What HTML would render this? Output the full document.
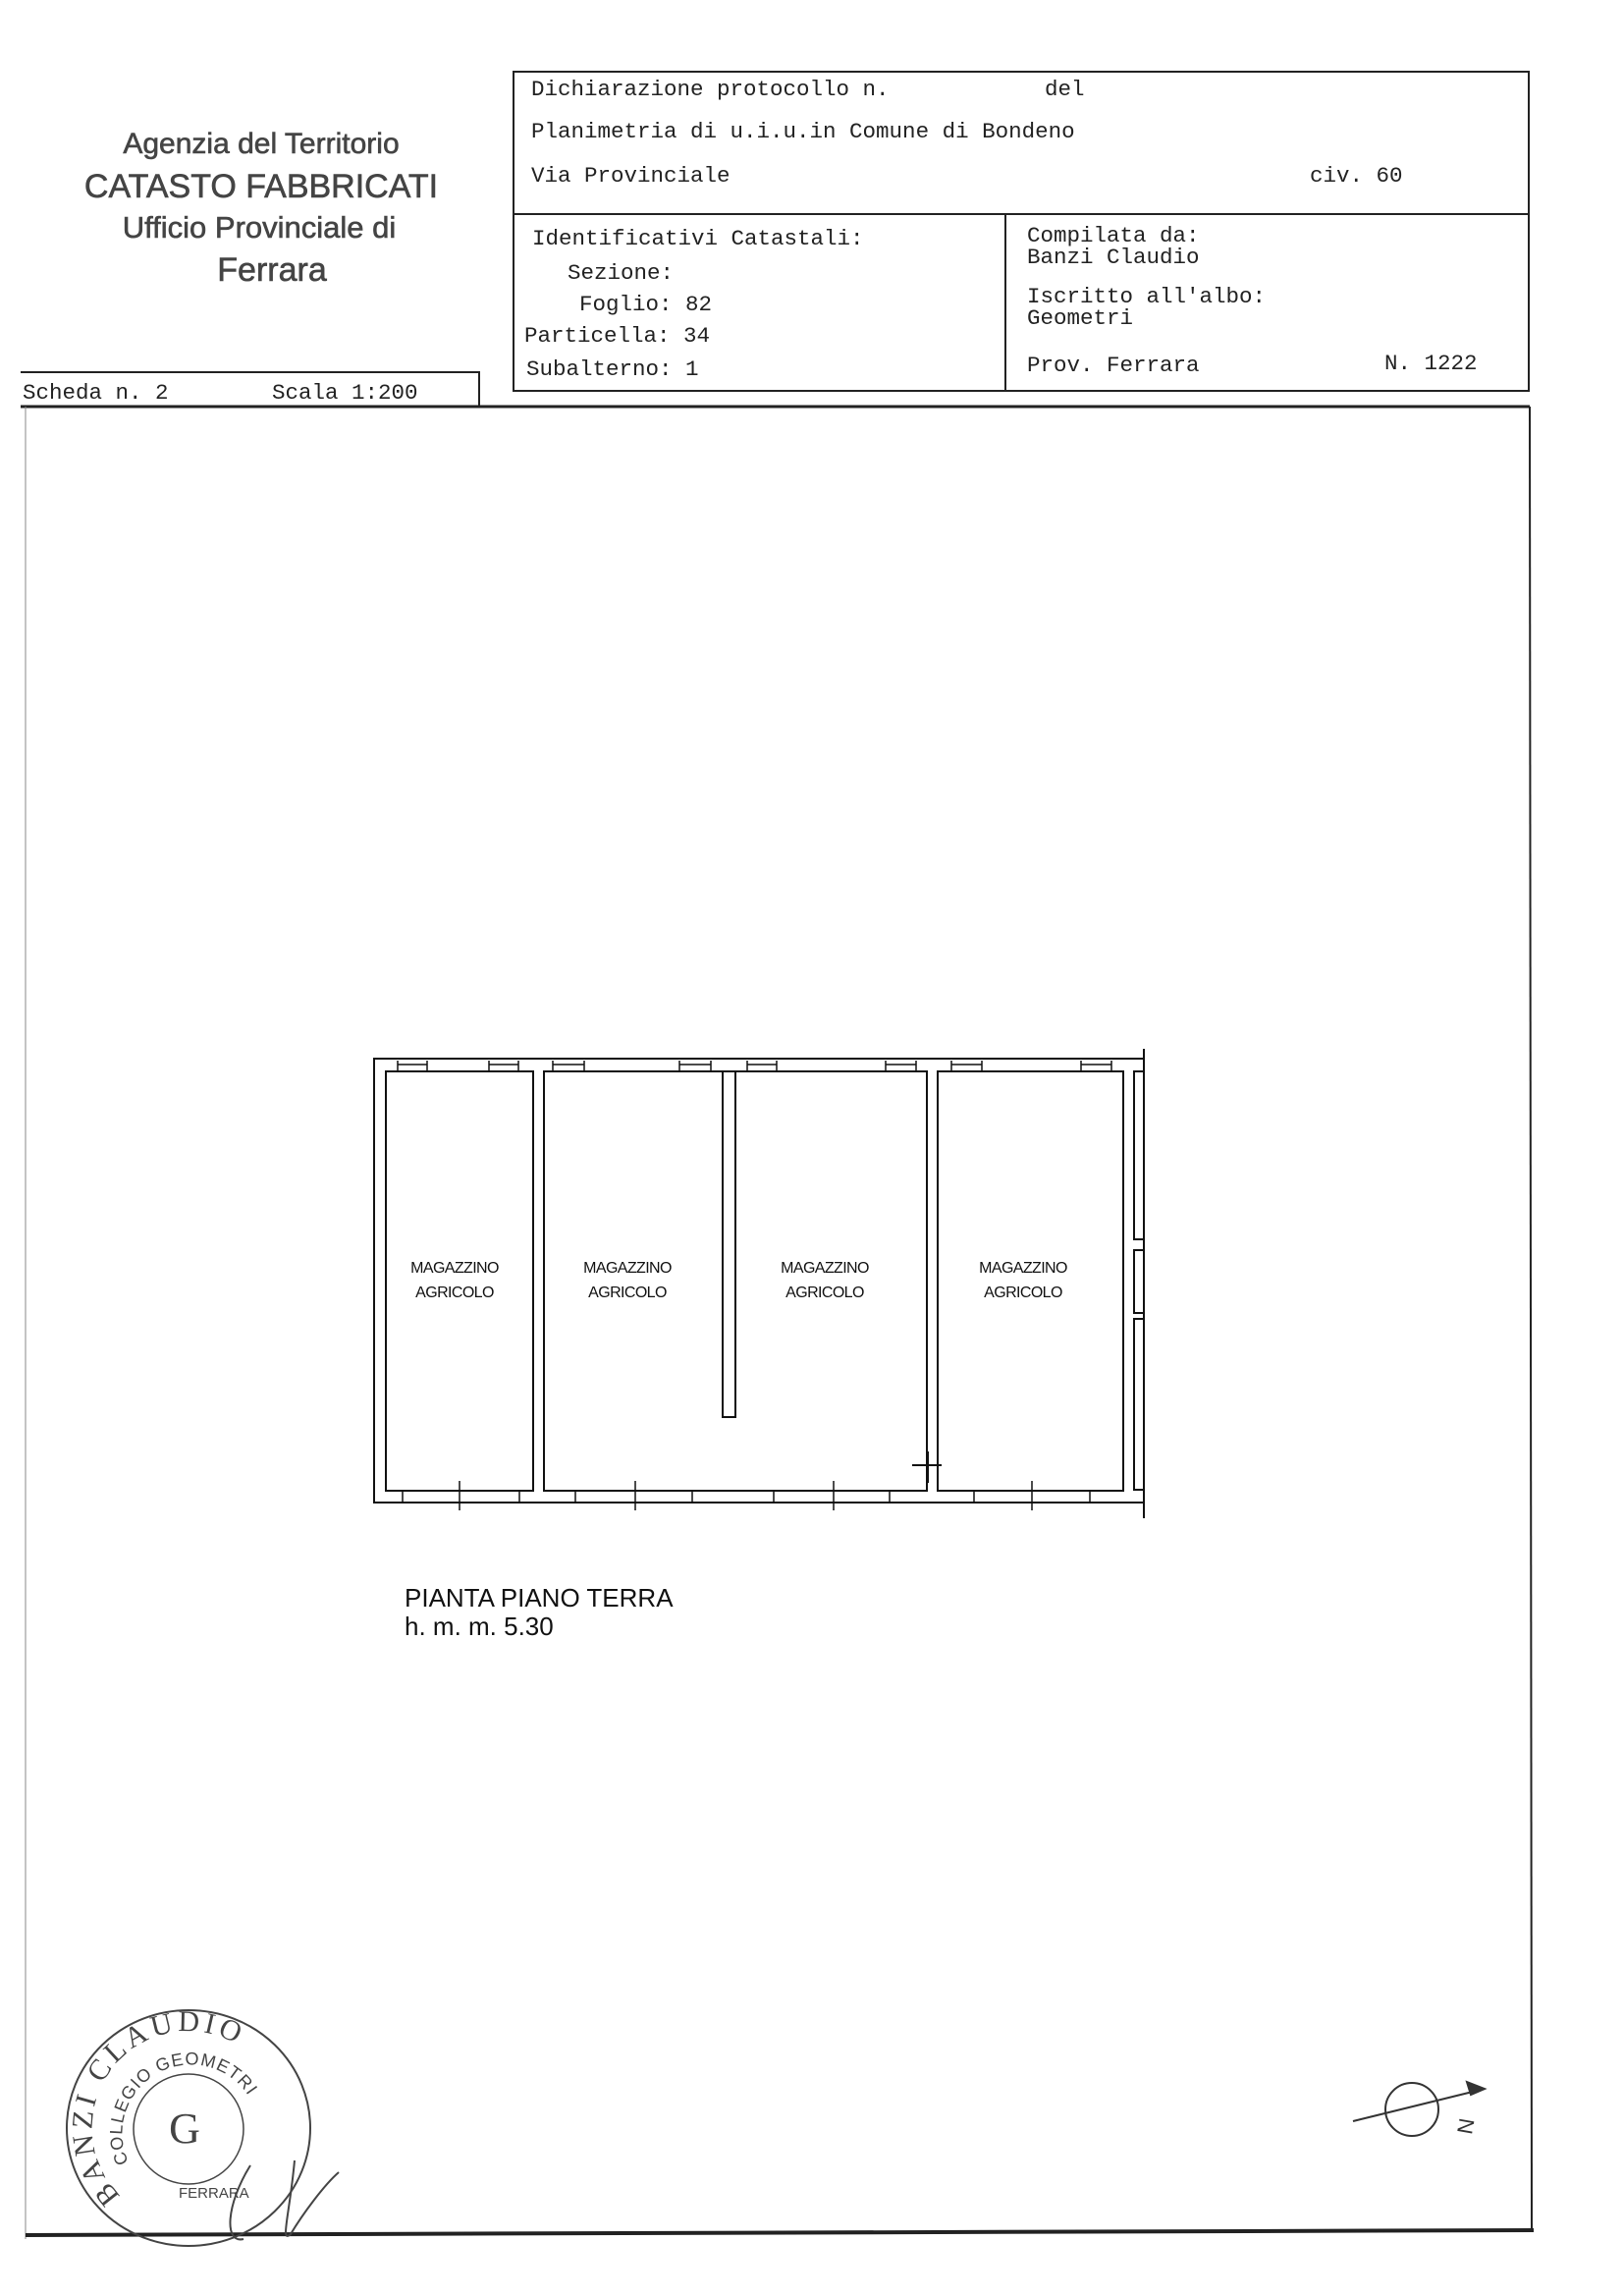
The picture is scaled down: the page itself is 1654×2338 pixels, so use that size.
<!DOCTYPE html>
<html><head><meta charset="utf-8"><style>
html,body{margin:0;padding:0;background:#fff}
svg{display:block}
.m{font-family:"Liberation Mono",monospace;font-size:22.5px;fill:#222}
.g{font-family:"Liberation Sans Narrow","Liberation Sans",sans-serif;fill:#444;stroke:#444;stroke-width:0.6;text-anchor:middle}
.p{font-family:"Liberation Sans",sans-serif;font-size:16px;fill:#111;text-anchor:middle;letter-spacing:-0.6px}
</style></head><body>
<svg width="1654" height="2338" viewBox="0 0 1654 2338" xmlns="http://www.w3.org/2000/svg">
<g fill="none" stroke="#222" stroke-width="2">
<rect x="523" y="73" width="1034" height="325"/>
<line x1="523" y1="218" x2="1557" y2="218"/>
<line x1="1024" y1="218" x2="1024" y2="398"/>
<polyline points="21,379 488,379 488,414"/>
<line x1="21" y1="414" x2="1558" y2="414" stroke-width="3"/>
<line x1="1558" y1="414" x2="1560" y2="2273"/>
<line x1="26" y1="414" x2="26" y2="2280" stroke="#888" stroke-width="1"/>
<line x1="26" y1="2276" x2="1562" y2="2271" stroke-width="4"/>
</g>
<text class="g" x="266" y="156" font-size="30">Agenzia del Territorio</text>
<text class="g" x="266" y="201" font-size="34" stroke-width="1.2">CATASTO FABBRICATI</text>
<text class="g" x="264" y="242" font-size="31">Ufficio Provinciale di</text>
<text class="g" x="277" y="286" font-size="34">Ferrara</text>
<text class="m" x="541" y="97">Dichiarazione protocollo n.</text>
<text class="m" x="1064" y="97">del</text>
<text class="m" x="541" y="140">Planimetria di u.i.u.in Comune di Bondeno</text>
<text class="m" x="541" y="185">Via Provinciale</text>
<text class="m" x="1334" y="185">civ. 60</text>
<text class="m" x="542" y="249">Identificativi Catastali:</text>
<text class="m" x="578" y="284">Sezione:</text>
<text class="m" x="590" y="316">Foglio: 82</text>
<text class="m" x="534" y="348">Particella: 34</text>
<text class="m" x="536" y="382">Subalterno: 1</text>
<text class="m" x="1046" y="246">Compilata da:</text>
<text class="m" x="1046" y="268">Banzi Claudio</text>
<text class="m" x="1046" y="308">Iscritto all'albo:</text>
<text class="m" x="1046" y="330">Geometri</text>
<text class="m" x="1046" y="378">Prov. Ferrara</text>
<text class="m" x="1410" y="376">N. 1222</text>
<text class="m" x="23" y="406">Scheda n. 2</text>
<text class="m" x="277" y="406">Scala 1:200</text>

<g fill="none" stroke="#111" stroke-width="2">
<polyline points="1165,1078 381,1078 381,1530 1165,1530"/>
<line x1="1165" y1="1068" x2="1165" y2="1546"/>
<rect x="393" y="1091" width="150" height="427"/>
<rect x="554" y="1091" width="390" height="427"/>
<rect x="955" y="1091" width="189" height="427"/>
<polyline points="736,1091 736,1443 749,1443 749,1091"/>
<polyline points="1165,1091 1155,1091 1155,1262 1165,1262"/>
<polyline points="1165,1273 1155,1273 1155,1337 1165,1337"/>
<polyline points="1165,1343 1155,1343 1155,1517 1165,1517"/>
<line x1="929" y1="1492" x2="959" y2="1492"/>
<line x1="945" y1="1478" x2="945" y2="1510"/>
<g stroke-width="1.5">
<path d="M405,1080v10M435,1080v10M405,1084h30"/>
<path d="M498,1080v10M528,1080v10M498,1084h30"/>
<path d="M563,1080v10M595,1080v10M563,1084h32"/>
<path d="M692,1080v10M724,1080v10M692,1084h32"/>
<path d="M761,1080v10M791,1080v10M761,1084h30"/>
<path d="M902,1080v10M933,1080v10M902,1084h31"/>
<path d="M969,1080v10M1000,1080v10M969,1084h31"/>
<path d="M1101,1080v10M1132,1080v10M1101,1084h31"/>
<path d="M410,1518v12M529,1518v12M586,1518v12M705,1518v12M788,1518v12M906,1518v12M992,1518v12M1110,1518v12"/>
<path d="M468,1508v30M647,1508v30M849,1508v30M1051,1508v30"/>
</g>
</g>
<text class="p" x="463" y="1296">MAGAZZINO</text><text class="p" x="463" y="1321">AGRICOLO</text>
<text class="p" x="639" y="1296">MAGAZZINO</text><text class="p" x="639" y="1321">AGRICOLO</text>
<text class="p" x="840" y="1296">MAGAZZINO</text><text class="p" x="840" y="1321">AGRICOLO</text>
<text class="p" x="1042" y="1296">MAGAZZINO</text><text class="p" x="1042" y="1321">AGRICOLO</text>
<text x="412" y="1636" font-family="Liberation Sans,sans-serif" font-size="26" fill="#111">PIANTA PIANO TERRA</text>
<text x="412" y="1665" font-family="Liberation Sans,sans-serif" font-size="26" fill="#111">h. m. m. 5.30</text>

<g fill="none" stroke="#333" stroke-width="2">
<circle cx="1438" cy="2148" r="27"/>
<line x1="1378" y1="2160" x2="1508" y2="2128"/>
<path d="M1512,2127 l-18,-7 l4,13 z" fill="#333"/>
</g>
<text x="1486" y="2175" font-family="Liberation Sans,sans-serif" font-size="22" fill="#333" transform="rotate(-80 1492 2167)">N</text>

<defs>
<path id="ro" d="M123,2236 A98,98 0 1 1 284,2133"/>
<path id="ri" d="M131,2202 A70,70 0 1 1 258,2143"/>
</defs>
<g fill="none" stroke="#444" stroke-width="2">
<ellipse cx="192" cy="2167" rx="124" ry="120"/>
<circle cx="192" cy="2168" r="56" stroke-width="1.5"/>
<path d="M300,2200 C295,2255 285,2285 296,2275 C308,2255 330,2225 345,2212"/>
<path d="M255,2205 C230,2245 228,2285 248,2280"/>
</g>
<text font-family="Liberation Serif,serif" font-size="30" fill="#444" letter-spacing="4"><textPath href="#ro">BANZI CLAUDIO</textPath></text>
<text font-family="Liberation Sans,sans-serif" font-size="18" fill="#444" letter-spacing="1"><textPath href="#ri">COLLEGIO GEOMETRI</textPath></text>
<text x="188" y="2182" font-family="Liberation Serif,serif" font-size="44" fill="#444" text-anchor="middle">G</text>
<text x="182" y="2238" font-family="Liberation Sans,sans-serif" font-size="15" fill="#444">FERRARA</text>
</svg>
</body></html>
